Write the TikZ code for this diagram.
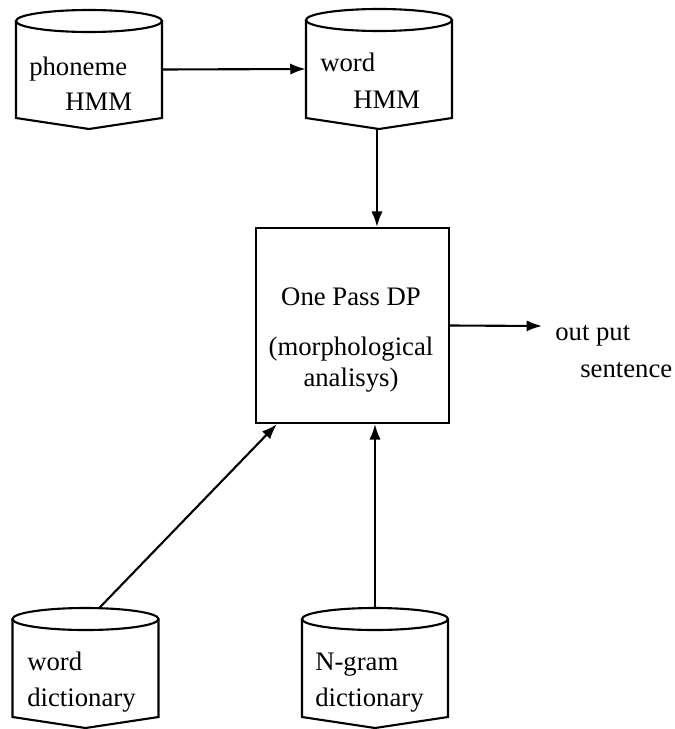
\documentclass[tikz,border=0pt]{standalone}
\usepackage{fontspec}
\setmainfont{Liberation Serif}
\usetikzlibrary{fit,calc,positioning,arrows.meta}

\tikzset{
  drumline/.style={line width=1.5pt},
  boxline/.style={draw, line width=1.5pt, inner sep=0pt},
  lbl/.style={inner sep=0pt, anchor=base west, font=\fontsize{19}{23}\selectfont},
  lblc/.style={lbl, anchor=base},
  flow/.style={line width=1.5pt, -{Latex[length=11pt,width=8pt]}}
}

% drum: name, centre x, rim y, side bottom y
\newcommand{\drum}[4]{
  \draw[drumline] (#2,#3) ellipse (73 and 11);
  \draw[drumline] (#2-73,#3) -- (#2-73,#4) -- (#2,#4+11) -- (#2+73,#4) -- (#2+73,#3);
  \node[fit={(#2-73,#3-11) (#2+73,#4+11)}, inner sep=0pt] (#1) {};
}

\begin{document}
\begin{tikzpicture}[x=0.025cm, y=-0.025cm]
        \useasboundingbox (0,0) rectangle (675,729);

        % stores
        \drum{phon}{89}{21}{118}
        \drum{whmm}{379}{20}{118}
        \drum{wdict}{85.5}{619}{717}
        \drum{ngram}{375}{619}{717}

        % decoder
        \node[boxline, fit={(256,228) (449,423)}] (dp) {};
        \coordinate (outend) at (542,326);

        \node[lbl] (phon-a) at (29,75) {phoneme};
        \node[lbl] (phon-b) at (65,110) {HMM};
        \node[lbl] (whmm-a) at (320,72) {word};
        \node[lbl] (whmm-b) at (353,108) {HMM};
        \node[lblc] (dp-a) at (351,305) {One Pass DP};
        \node[lblc] (dp-b) at (351,355) {(morphological};
        \node[lblc] (dp-c) at (351,386) {analisys)};
        \node[lbl] (out-a) at (555,340) {out put};
        \node[lbl] (out-b) at (580,377) {sentence};
        \node[lbl] (wdict-a) at (27,670) {word};
        \node[lbl] (wdict-b) at (27,706) {dictionary};
        \node[lbl] (ngram-a) at (315,670) {N-gram};
        \node[lbl] (ngram-b) at (315,706) {dictionary};

        \draw[flow] (phon.east) -- (whmm.west);
        \draw[flow] ([xshift=-0.05cm]whmm.south) -- ([xshift=-0.05cm]whmm.south |- dp.north);
        \draw[flow] (dp.east) -- (outend);
        \draw[flow] ($(wdict.north)+(14,0)$) -- ($(dp.south west)+(22,0)$);
        \draw[flow] (ngram.north) -- (ngram.north |- dp.south);
\end{tikzpicture}
\end{document}
